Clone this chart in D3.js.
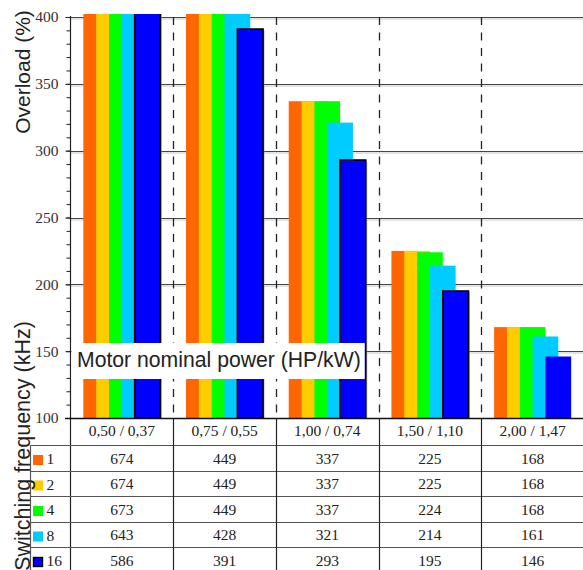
<!DOCTYPE html>
<html>
<head>
<meta charset="utf-8">
<script src="https://cdn.jsdelivr.net/npm/d3@7/dist/d3.min.js"></script>
<style>
  html, body { margin: 0; padding: 0; background: #fff; }
  svg { display: block; }
  .serif { font-family: "Liberation Serif", "Times New Roman", serif; }
  .sans { font-family: "Liberation Sans", Arial, sans-serif; }
</style>
</head>
<body>
<svg id="chart" width="583" height="570"></svg>
<script>
// Motor nominal power categories (HP / kW)
const categories = ["0,50 / 0,37", "0,75 / 0,55", "1,00 / 0,74", "1,50 / 1,10", "2,00 / 1,47"];
// Switching frequencies (kHz)
const frequencies = ["1", "2", "4", "8", "16"];
// Overload (%) for each switching frequency, one value per motor power
const overload1 = [674, 449, 337, 225, 168];
const overload2 = [674, 449, 337, 225, 168];
const overload4 = [673, 449, 337, 224, 168];
const overload8 = [643, 428, 321, 214, 161];
const overload16 = [586, 391, 293, 195, 146];
// Y axis ticks
const majorTicks = [100, 150, 200, 250, 300, 350, 400];
const minorTicks = d3.range(100, 401, 10);

const series = [overload1, overload2, overload4, overload8, overload16];
const colors = ["#FF6600", "#FFCC00", "#00FF00", "#00CCFF", "#0000FF"];

const svg = d3.select("#chart");
const W = 583, H = 570;
const axisX = 70.5, baseY = 418;

const x = d3.scaleBand().domain(categories).range([axisX, 584]);
const y = d3.scaleLinear().domain([100, 400]).range([baseY, 17]);
const slot = d3.scaleBand().domain(d3.range(6)).range([0, x.bandwidth()]).paddingOuter(1);
const crisp = v => Math.round(v) + 0.5;

// plot clip (bars above the top are cut off)
const defs = svg.append("defs");
defs.append("clipPath").attr("id", "plotClip")
  .append("rect")
  .attr("x", axisX).attr("y", y(402.3))
  .attr("width", W - axisX).attr("height", baseY - y(402.3));

// horizontal gridlines with a soft shadow
const grid = svg.append("g");
majorTicks.filter(v => v > 100).forEach(v => {
  const yy = crisp(y(v));
  grid.append("line").attr("x1", axisX).attr("x2", W)
    .attr("y1", yy + 1.5).attr("y2", yy + 1.5)
    .attr("stroke", "#c8c8c8").attr("stroke-width", 1);
  grid.append("line").attr("x1", axisX).attr("x2", W)
    .attr("y1", yy).attr("y2", yy)
    .attr("stroke", "#444").attr("stroke-width", 1.2);
});

// dashed separators between power groups
categories.slice(1).forEach(c => {
  const xx = crisp(x(c));
  svg.append("line").attr("x1", xx).attr("x2", xx)
    .attr("y1", y(400)).attr("y2", baseY)
    .attr("stroke", "#222").attr("stroke-width", 1.3)
    .attr("stroke-dasharray", "8,7.5");
});

// bars: each frequency overlaps the previous one by half a bar
const bars = svg.append("g").attr("clip-path", "url(#plotClip)");
const barW = slot.step() * 2;
series.forEach((vals, j) => {
  const last = j === series.length - 1;
  vals.forEach((v, i) => {
    const bx = x(categories[i]) + slot(j);
    const by = y(v);
    const outlined = last && i < categories.length - 1;
    if (outlined) {
      bars.append("rect")
        .attr("x", bx + 1.5).attr("y", by + 1.5)
        .attr("width", barW).attr("height", baseY - by)
        .attr("fill", "#999").attr("opacity", 0.7);
    }
    bars.append("rect")
      .attr("x", bx).attr("y", by)
      .attr("width", barW).attr("height", baseY - by)
      .attr("fill", colors[j])
      .attr("stroke", outlined ? "#000" : "none")
      .attr("stroke-width", outlined ? 1.6 : 0);
  });
});

// y axis with major and minor ticks
const axisG = svg.append("g").attr("transform", `translate(${axisX},0)`);
axisG.call(d3.axisLeft(y).tickValues(minorTicks).tickSize(4).tickFormat(""));
axisG.select(".domain").remove();
axisG.selectAll(".tick line").attr("stroke", "#222");
const majorG = svg.append("g").attr("transform", `translate(${axisX},0)`);
majorG.call(d3.axisLeft(y).tickValues(majorTicks).tickSize(5).tickPadding(7));
majorG.attr("font-family", null).attr("font-size", null);
majorG.select(".domain").remove();
majorG.selectAll(".tick line").attr("stroke", "#222");
majorG.selectAll(".tick text")
  .attr("class", "serif")
  .style("font-family", "'Liberation Serif', 'Times New Roman', serif")
  .style("font-size", "15.5px").attr("fill", "#333");

// axis line runs down through the table
svg.append("line").attr("x1", axisX).attr("x2", axisX)
  .attr("y1", 16).attr("y2", H).attr("stroke", "#222").attr("stroke-width", 1.2);
// baseline
svg.append("line").attr("x1", 65).attr("x2", W)
  .attr("y1", crisp(baseY)).attr("y2", crisp(baseY))
  .attr("stroke", "#111").attr("stroke-width", 1.4);

// x axis title over the bars
const xTitle = svg.append("g");
const xt = xTitle.append("text")
  .attr("class", "sans")
  .attr("x", 77).attr("y", 367)
  .style("font-size", "21.2px").attr("fill", "#222")
  .text("Motor nominal power (HP/kW)");
const bb = xt.node().getBBox();
xTitle.insert("rect", "text")
  .attr("x", axisX + 1).attr("y", 343)
  .attr("width", bb.x + bb.width + 4 - (axisX + 1)).attr("height", 36)
  .attr("fill", "#fff");

// table
const rowTop = 445, rowH = 25.5;
const rows = d3.scaleBand().domain(frequencies).range([rowTop, rowTop + rowH * frequencies.length]);
const table = svg.append("g");

// category labels
categories.forEach(c => {
  table.append("text")
    .attr("class", "serif")
    .attr("x", x(c) + x.bandwidth() / 2).attr("y", 436)
    .attr("text-anchor", "middle")
    .style("font-size", "15.5px").attr("fill", "#222")
    .text(c);
});

// row separators
frequencies.forEach(f => {
  table.append("line").attr("x1", 30).attr("x2", W)
    .attr("y1", crisp(rows(f))).attr("y2", crisp(rows(f)))
    .attr("stroke", "#555").attr("stroke-width", 1.2);
});
// column separators
table.append("line").attr("x1", 30.5).attr("x2", 30.5)
  .attr("y1", rowTop).attr("y2", H).attr("stroke", "#555").attr("stroke-width", 1.2);
categories.slice(1).forEach(c => {
  const xx = crisp(x(c));
  table.append("line").attr("x1", xx).attr("x2", xx)
    .attr("y1", baseY).attr("y2", H).attr("stroke", "#222").attr("stroke-width", 1.2);
});

// legend cells and values
frequencies.forEach((f, j) => {
  const top = rows(f);
  const last = j === frequencies.length - 1;
  table.append("rect")
    .attr("x", last ? 33.5 : 33).attr("y", top + (last ? 10.5 : 10))
    .attr("width", last ? 9 : 10).attr("height", last ? 9 : 10)
    .attr("fill", colors[j])
    .attr("stroke", last ? "#000" : "none").attr("stroke-width", last ? 1.4 : 0);
  table.append("text")
    .attr("class", "serif")
    .attr("x", 46.5).attr("y", top + 19)
    .style("font-size", "15.5px").attr("fill", "#222")
    .text(f);
  series[j].forEach((v, i) => {
    table.append("text")
      .attr("class", "serif")
      .attr("x", x(categories[i]) + x.bandwidth() / 2).attr("y", top + 18.5)
      .attr("text-anchor", "middle")
      .style("font-size", "15.5px").attr("fill", "#222")
      .text(v);
  });
});

// rotated titles
svg.append("text")
  .attr("class", "sans")
  .attr("transform", "translate(29.5,72) rotate(-90)")
  .attr("text-anchor", "middle")
  .style("font-size", "21px").attr("fill", "#222")
  .text("Overload (%)");
svg.append("text")
  .attr("class", "sans")
  .attr("transform", "translate(29.5,446) rotate(-90)")
  .attr("text-anchor", "middle")
  .style("font-size", "21.5px").attr("fill", "#222")
  .text("Switching frequency (kHz)");
</script>
</body>
</html>
